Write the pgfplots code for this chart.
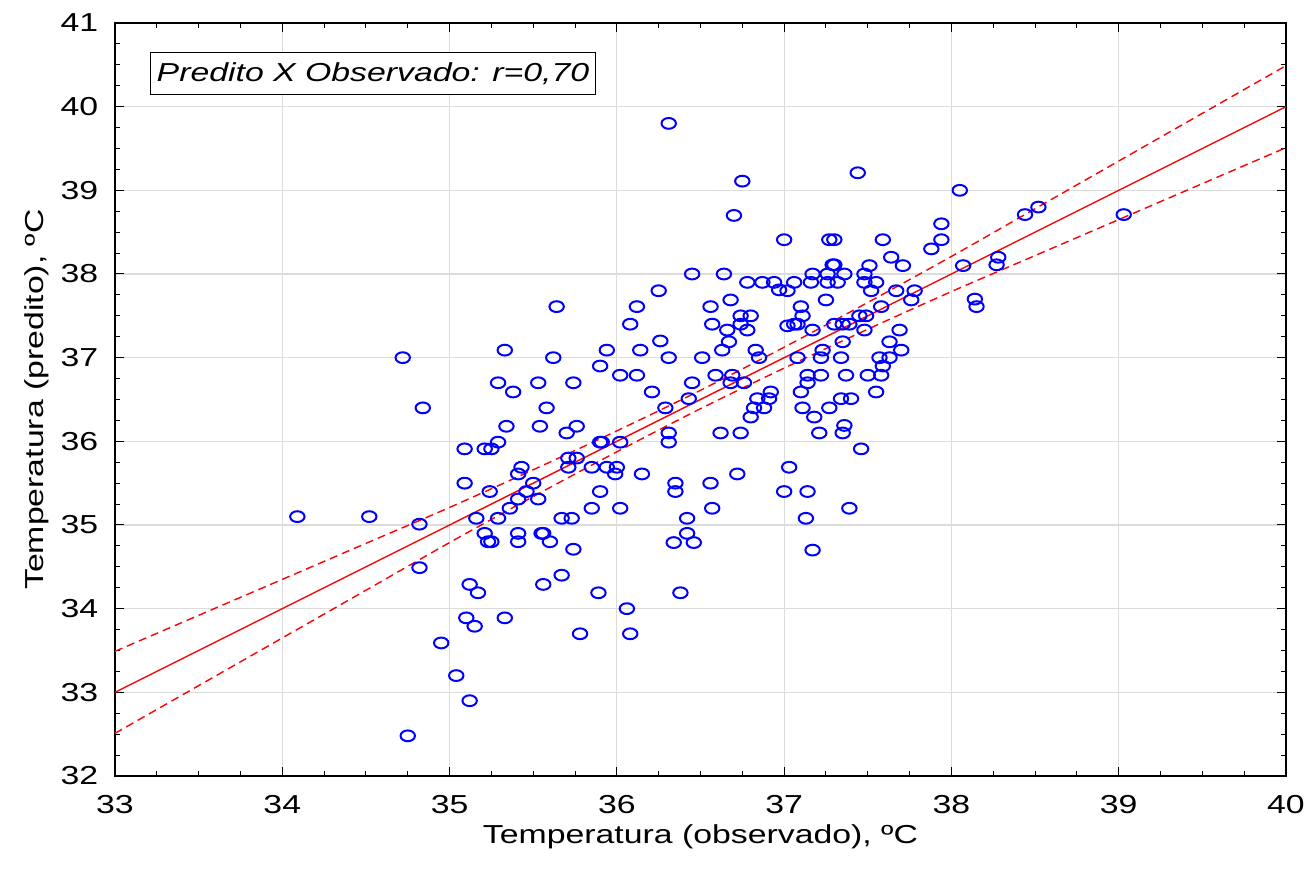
\documentclass[border=0pt]{standalone}
\usepackage{fontspec}
\setmainfont{Liberation Sans}[FakeStretch=1.3]
\usepackage{pgfplots}
\pgfplotsset{compat=1.18}
\definecolor{gridgray}{RGB}{220,220,220}
\pgfdeclareplotmark{oval}{\pgfpathellipse{\pgfpointorigin}{\pgfpoint{7.2bp}{0bp}}{\pgfpoint{0bp}{5.4bp}}\pgfusepathqstroke}
\pgfplotstableread{
x y
34.72 37.00
34.84 36.40
35.33 37.09
35.62 37.00
35.29 36.70
35.38 36.59
35.53 36.70
35.74 36.70
35.58 36.40
35.34 36.18
35.54 36.18
35.70 36.10
35.76 36.18
35.29 35.99
35.09 35.91
35.21 35.91
35.25 35.91
35.71 35.80
35.76 35.80
35.71 35.69
35.43 35.69
35.41 35.61
35.50 35.50
35.46 35.40
35.41 35.31
35.53 35.31
35.36 35.20
35.24 35.40
35.09 35.50
35.16 35.08
35.29 35.08
35.67 35.08
35.73 35.08
34.82 35.01
35.21 34.90
35.41 34.90
35.55 34.90
35.56 34.90
35.23 34.80
35.25 34.80
35.41 34.80
35.60 34.80
35.74 34.71
34.82 34.49
35.12 34.29
35.17 34.19
35.56 34.29
35.67 34.40
35.10 33.89
35.15 33.79
35.33 33.89
35.78 33.70
34.95 33.59
35.04 33.20
35.12 32.90
34.75 32.48
36.34 34.79
36.46 34.79
35.89 34.19
36.38 34.19
36.06 34.00
36.08 33.70
37.17 34.70
35.94 37.09
36.26 37.20
36.14 37.09
35.90 36.90
36.31 37.00
36.51 37.00
36.63 37.09
36.83 37.09
36.85 37.00
36.02 36.79
36.12 36.79
36.21 36.59
36.45 36.70
36.59 36.79
36.69 36.79
36.68 36.70
36.76 36.70
36.92 36.59
36.84 36.51
36.91 36.51
36.82 36.40
36.88 36.40
36.80 36.29
36.43 36.51
36.29 36.40
36.31 36.10
36.31 35.99
35.90 35.99
35.91 35.99
36.02 35.99
36.62 36.10
36.74 36.10
35.85 35.69
35.94 35.69
36.00 35.69
35.99 35.61
36.15 35.61
36.72 35.61
35.90 35.40
36.35 35.50
36.35 35.40
36.56 35.50
35.85 35.20
36.02 35.20
36.57 35.20
36.42 35.08
36.42 34.90
36.67 37.19
36.31 39.80
36.75 39.11
36.70 38.70
36.45 38.00
36.64 38.00
36.78 37.90
36.87 37.90
36.94 37.90
36.97 37.81
36.25 37.80
36.12 37.61
36.68 37.69
36.56 37.61
36.08 37.40
36.57 37.40
36.74 37.50
36.80 37.50
36.74 37.40
36.66 37.33
36.78 37.33
35.64 37.61
37.44 39.21
38.05 39.00
37.94 38.60
37.94 38.41
37.88 38.30
37.00 38.41
37.27 38.41
37.30 38.41
37.59 38.41
37.64 38.20
37.71 38.10
37.29 38.11
37.30 38.11
37.51 38.10
38.07 38.10
37.17 38.00
37.26 38.00
37.36 38.00
37.48 38.00
37.06 37.90
37.16 37.90
37.26 37.90
37.32 37.90
37.48 37.90
37.55 37.90
37.02 37.80
37.52 37.80
37.67 37.80
37.78 37.80
37.76 37.69
37.25 37.69
37.10 37.61
37.11 37.50
37.58 37.61
38.14 37.70
38.15 37.61
37.02 37.38
37.06 37.40
37.08 37.40
37.17 37.33
37.30 37.40
37.35 37.40
37.39 37.40
37.45 37.50
37.49 37.50
37.48 37.33
37.69 37.33
37.35 37.19
37.63 37.19
37.70 37.09
37.08 37.00
37.22 37.00
37.23 37.09
37.34 37.00
37.57 37.00
37.63 37.00
37.59 36.90
37.14 36.79
37.22 36.79
37.37 36.79
37.50 36.79
37.58 36.79
37.14 36.70
37.10 36.59
37.55 36.59
37.34 36.51
37.40 36.51
37.11 36.40
37.27 36.40
37.18 36.29
37.36 36.19
37.21 36.10
37.35 36.10
37.46 35.91
37.03 35.69
37.00 35.40
37.14 35.40
37.39 35.20
37.13 35.08
38.44 38.71
38.52 38.80
39.03 38.71
38.28 38.20
38.27 38.11
34.09 35.10
34.52 35.10
}\obs
\begin{document}
\fontsize{26bp}{30bp}\selectfont
\begin{tikzpicture}
\useasboundingbox (0,0) rectangle (1308bp,872bp);
\begin{axis}[
 at={(115bp,96bp)}, anchor=south west,
 scale only axis, width=1171bp, height=753bp,
 xmin=33, xmax=40, ymin=32, ymax=41,
 xtick={33,...,40}, ytick={32,...,41},
 minor x tick num=3, minor y tick num=3,
 tick align=inside,
 major tick length=9bp, minor tick length=5bp,
 grid=major, major grid style={gridgray, line width=1.2bp},
 axis line style={black, line width=1.4bp},
 every tick/.style={black, line width=1bp},
 /pgf/number format/assume math mode=true,
 tick label style={font=\fontsize{26bp}{30bp}\selectfont},
 xticklabel style={yshift=-10bp},
 yticklabel style={xshift=-8bp},
 xlabel={Temperatura (observado), ºC},
 ylabel={Temperatura (predito), ºC},
 label style={font=\fontsize{26bp}{30bp}\selectfont},
 xlabel style={yshift=6bp},
 ylabel style={yshift=-6bp},
]
\addplot[red, line width=1.4bp] coordinates {(33,33) (40,40)};
\addplot[red, line width=1.4bp, dash pattern=on 8bp off 5bp, smooth] coordinates {
(33,33.49) (33.5,33.92) (34,34.35) (34.5,34.78) (35,35.21) (35.5,35.66) (36,36.125) (36.5,36.61) (37,37.125) (37.5,37.66) (38,38.21) (38.5,38.78) (39,39.35) (39.5,39.92) (40,40.49)};
\addplot[red, line width=1.4bp, dash pattern=on 8bp off 5bp, smooth] coordinates {
(33,32.51) (33.5,33.08) (34,33.65) (34.5,34.22) (35,34.79) (35.5,35.34) (36,35.875) (36.5,36.39) (37,36.875) (37.5,37.34) (38,37.79) (38.5,38.22) (39,38.65) (39.5,39.08) (40,39.51)};
\addplot[only marks, mark=oval, color=blue, mark options={line width=2bp}] table[x=x, y=y] {\obs};
\node[draw=black, line width=1.2bp, fill=white, anchor=north west, inner xsep=6bp, inner ysep=10bp] at (rel axis cs:0.030,0.962) {\itshape Predito X Observado: r=0,70};
\end{axis}
\end{tikzpicture}
\end{document}
